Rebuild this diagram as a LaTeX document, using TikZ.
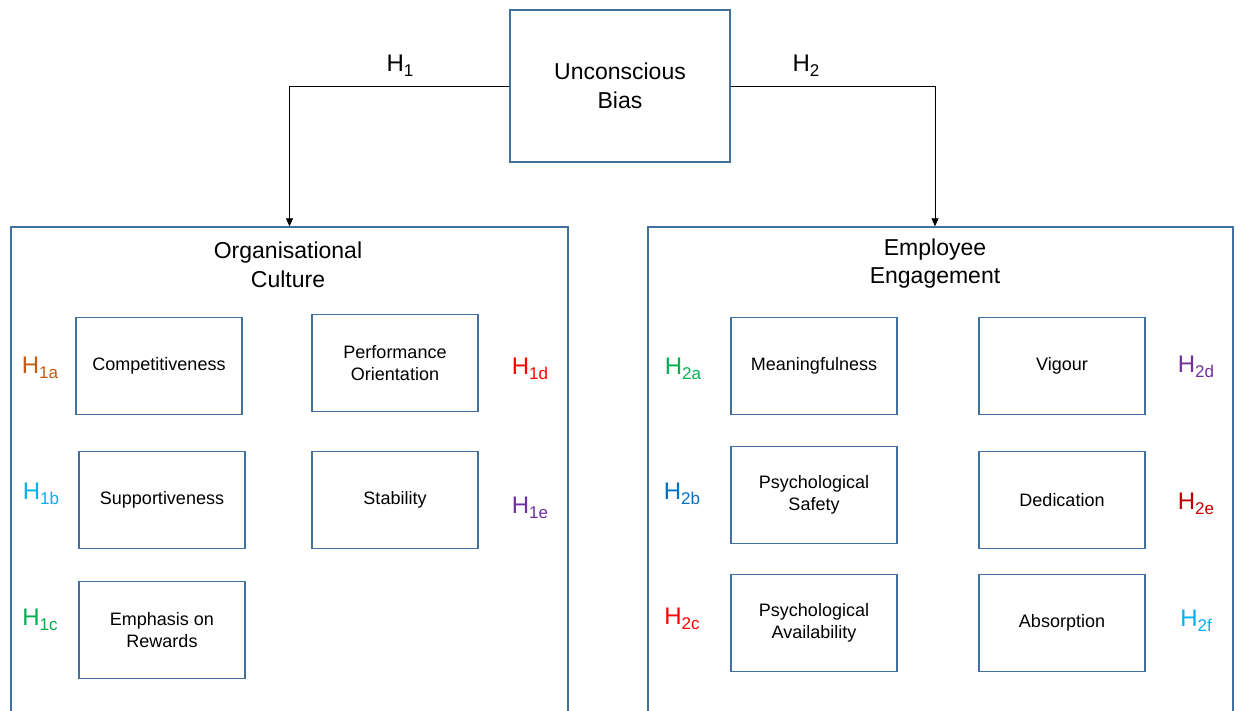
\documentclass[tikz,border=0pt]{standalone}
\usepackage{fontspec}
\setmainfont{Liberation Sans}
\usetikzlibrary{arrows.meta,calc}
\definecolor{boxblue}{HTML}{41719C}
\definecolor{hOrange}{HTML}{C55A11}
\definecolor{hCyan}{HTML}{00B0F0}
\definecolor{hGreen}{HTML}{00B050}
\definecolor{hRed}{HTML}{FF0000}
\definecolor{hPurple}{HTML}{7030A0}
\definecolor{hBlue}{HTML}{0070C0}
\definecolor{hDarkRed}{HTML}{C00000}
\newcommand{\bigtxt}{\fontsize{23}{28.5}\selectfont}
\newcommand{\smalltxt}{\fontsize{18}{22}\selectfont}
\newcommand{\hyp}[1]{{\fontsize{24}{24}\selectfont H}\raisebox{-5pt}{\fontsize{17}{17}\selectfont #1}}
\begin{document}
\begin{tikzpicture}[x=1pt,y=-1pt,
  bluebox/.style={draw=boxblue,line width=1.4pt,inner sep=0pt,align=center},
  subbox/.style={bluebox,minimum width=166pt,minimum height=97pt,font=\smalltxt},
  hlabel/.style={inner sep=0pt,font=\fontsize{24}{24}\selectfont},
  conn/.style={draw=black,line width=0.9pt,-{Triangle[length=8pt,width=7pt]}}]
\useasboundingbox (0,0) rectangle (1238,711);
% top box
\node[bluebox,minimum width=220pt,minimum height=152pt,font=\bigtxt] (ub) at (620,86) {Unconscious\\Bias};
% containers (open at the bottom, cut by the page edge)
\node[bluebox,minimum width=557pt,minimum height=520pt] (org) at (289.5,487) {};
\node[bluebox,minimum width=585pt,minimum height=520pt] (eng) at (940.5,487) {};
\node[inner sep=0pt,align=center,font=\bigtxt] (orgt) at (288,265) {Organisational\\Culture};
\node[inner sep=0pt,align=center,font=\bigtxt] (engt) at (935,263.5) {Employee\\Engagement};
% connectors
\coordinate (engin) at ([xshift=-5.5pt]eng.north);
\draw[conn] (ub.west) -| (org.north);
\draw[conn] (ub.east) -| (engin);
\node[hlabel] (h1) at (400,66) {\hyp{1}};
\node[hlabel] (h2) at (806,66) {\hyp{2}};
% left boxes
\node[subbox] (comp) at (159,366) {Competitiveness};
\node[subbox] (perf) at (395,363) {Performance\\Orientation};
\node[subbox] (supp) at (162,500) {Supportiveness};
\node[subbox] (stab) at (395,500) {Stability};
\node[subbox] (emph) at (162,630) {Emphasis on\\Rewards};
\node[hlabel,text=hOrange] (h1a) at (40,368) {\hyp{1a}};
\node[hlabel,text=hCyan] (h1b) at (41,494) {\hyp{1b}};
\node[hlabel,text=hGreen] (h1c) at (40,620) {\hyp{1c}};
\node[hlabel,text=hRed] (h1d) at (530,369) {\hyp{1d}};
\node[hlabel,text=hPurple] (h1e) at (530,508) {\hyp{1e}};
% right boxes
\node[subbox] (mean) at (814,366) {Meaningfulness};
\node[subbox] (psaf) at (814,495) {Psychological\\Safety};
\node[subbox] (pava) at (814,623) {Psychological\\Availability};
\node[subbox] (vig) at (1062,366) {Vigour};
\node[subbox] (ded) at (1062,500) {Dedication};
\node[subbox] (abs) at (1062,623) {Absorption};
\node[hlabel,text=hGreen] (h2a) at (683,369) {\hyp{2a}};
\node[hlabel,text=hBlue] (h2b) at (682,494) {\hyp{2b}};
\node[hlabel,text=hRed] (h2c) at (682,619) {\hyp{2c}};
\node[hlabel,text=hPurple] (h2d) at (1196,367) {\hyp{2d}};
\node[hlabel,text=hDarkRed] (h2e) at (1196,504) {\hyp{2e}};
\node[hlabel,text=hCyan] (h2f) at (1196,621) {\hyp{2f}};
\end{tikzpicture}
\end{document}
